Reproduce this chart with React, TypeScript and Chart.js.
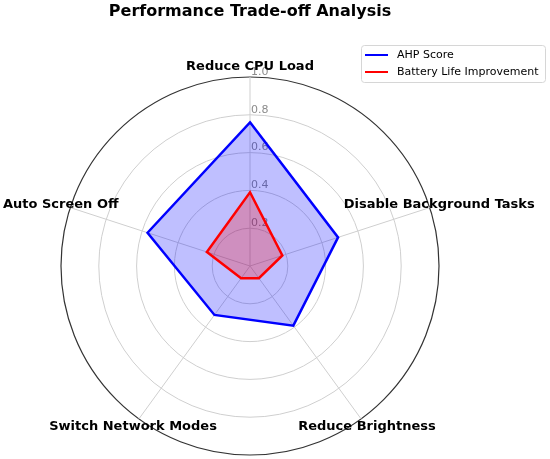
import React, { useEffect, useRef } from 'react';
import { Chart, registerables } from 'chart.js';

Chart.register(...registerables);

const chartTitle = 'Performance Trade-off Analysis';
const categories = [
  'Reduce CPU Load',
  'Disable Background Tasks',
  'Reduce Brightness',
  'Switch Network Modes',
  'Auto Screen Off',
];
const seriesNames = ['AHP Score', 'Battery Life Improvement'];
const ahpScores = [0.76, 0.49, 0.39, 0.32, 0.57];
const batteryImprovement = [0.39, 0.18, 0.08, 0.08, 0.24];
const tickValues = [0.2, 0.4, 0.6, 0.8, 1.0];
const seriesColors = ['#0000ff', '#ff0000'];
const seriesFills = ['rgba(0,0,255,0.25)', 'rgba(255,0,0,0.25)'];

const FONT = '"DejaVu Sans", "Liberation Sans", sans-serif';

const overlayPlugin = {
  id: 'overlay',
  beforeDatasetsDraw(chart: any) {
    const ctx = chart.ctx;
    const r = chart.scales.r;
    ctx.save();
    ctx.font = `11px ${FONT}`;
    ctx.fillStyle = '#8c8c8c';
    ctx.textAlign = 'left';
    ctx.textBaseline = 'middle';
    tickValues.forEach((v) => {
      const d = r.getDistanceFromCenterForValue(v);
      const p = r.getPointPosition(0, d);
      ctx.fillText(v.toFixed(1), p.x + 1, p.y - 5);
    });
    ctx.restore();
  },
  afterDatasetsDraw(chart: any) {
    const ctx = chart.ctx;
    const r = chart.scales.r;
    ctx.save();
    // point labels
    ctx.font = `bold 13px ${FONT}`;
    ctx.fillStyle = '#000';
    ctx.textAlign = 'center';
    ctx.textBaseline = 'middle';
    categories.forEach((c, i) => {
      const p = r.getPointPosition(i, r.drawingArea + 10);
      ctx.fillText(c, p.x, p.y);
    });
    // title
    ctx.font = `bold 16px ${FONT}`;
    ctx.fillText(chartTitle, r.xCenter, 12);
    // legend
    const bx = 361.5, by = 45.5, bw = 184, bh = 37;
    ctx.beginPath();
    if ((ctx as any).roundRect) (ctx as any).roundRect(bx, by, bw, bh, 3);
    else ctx.rect(bx, by, bw, bh);
    ctx.fillStyle = 'rgba(255,255,255,0.8)';
    ctx.fill();
    ctx.strokeStyle = '#d6d6d6';
    ctx.lineWidth = 1;
    ctx.stroke();
    ctx.font = `11px ${FONT}`;
    ctx.textAlign = 'left';
    seriesNames.forEach((name, i) => {
      const y = 55 + i * 17;
      ctx.beginPath();
      ctx.moveTo(365, y);
      ctx.lineTo(388, y);
      ctx.strokeStyle = seriesColors[i];
      ctx.lineWidth = 2;
      ctx.stroke();
      ctx.fillStyle = '#000';
      ctx.fillText(name, 397, y);
    });
    ctx.restore();
  },
};

export default function App() {
  const canvasRef = useRef<HTMLCanvasElement | null>(null);

  useEffect(() => {
    if (!canvasRef.current) return;
    const chart = new Chart(canvasRef.current, {
      type: 'radar',
      data: {
        labels: categories,
        datasets: [
          {
            label: seriesNames[0],
            data: ahpScores,
            borderColor: seriesColors[0],
            backgroundColor: seriesFills[0],
            borderWidth: 2.5,
            pointRadius: 0,
            fill: true,
            order: 1,
          },
          {
            label: seriesNames[1],
            data: batteryImprovement,
            borderColor: seriesColors[1],
            backgroundColor: seriesFills[1],
            borderWidth: 2.5,
            pointRadius: 0,
            fill: true,
            order: 0,
          },
        ],
      },
      options: {
        responsive: false,
        animation: false,
        layout: { padding: { left: 61, top: 77, right: 111, bottom: 4 } },
        plugins: {
          legend: { display: false },
          title: { display: false },
          tooltip: { enabled: false },
        },
        scales: {
          r: {
            min: 0,
            max: 1,
            ticks: { display: false, stepSize: 0.2 },
            pointLabels: { display: false },
            grid: {
              circular: true,
              color: (c: any) => (c.tick && c.tick.value >= 1 ? '#333333' : '#cfcfcf'),
              lineWidth: (c: any) => (c.tick && c.tick.value >= 1 ? 1.2 : 1),
            },
            angleLines: { color: '#cfcfcf', lineWidth: 1 },
          },
        },
      },
      plugins: [overlayPlugin],
    } as any);
    return () => chart.destroy();
  }, []);

  return (
    <div style={{ position: 'absolute', left: 0, top: 0, width: 550, height: 459, background: '#fff' }}>
      <canvas ref={canvasRef} width={550} height={459} />
    </div>
  );
}
